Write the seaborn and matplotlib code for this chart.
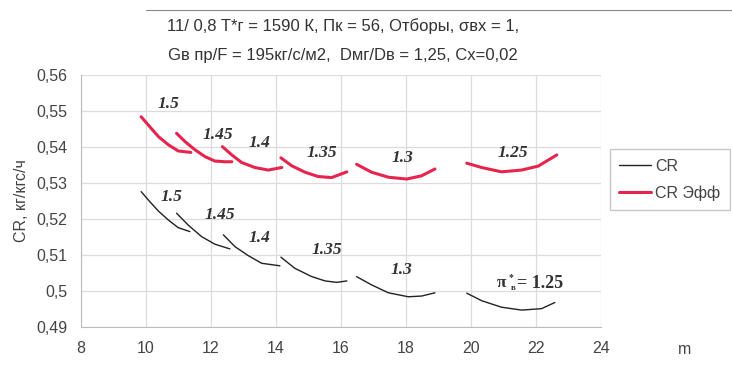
import pandas as pd
import seaborn as sns
import matplotlib.pyplot as plt
from matplotlib.lines import Line2D

# pi*_v labels of the curve families
pi_values = ['1.5', '1.45', '1.4', '1.35', '1.3', '1.25']

# CR (black) curves: m and CR per pi
cr_m = [
    [9.85, 10.07, 10.38, 10.69, 10.99, 11.35],
    [10.94, 11.30, 11.71, 12.12, 12.58],
    [12.38, 12.74, 13.15, 13.56, 14.12],
    [14.15, 14.58, 15.10, 15.51, 15.87, 16.18],
    [16.48, 16.94, 17.46, 18.07, 18.48, 18.89],
    [19.87, 20.33, 20.94, 21.56, 22.17, 22.58],
]
cr_val = [
    [0.5276, 0.5253, 0.5222, 0.5197, 0.5176, 0.5165],
    [0.5216, 0.5183, 0.5151, 0.5130, 0.5117],
    [0.5156, 0.5123, 0.5098, 0.5077, 0.5070],
    [0.5094, 0.5063, 0.5040, 0.5028, 0.5024, 0.5028],
    [0.5040, 0.5017, 0.4995, 0.4984, 0.4986, 0.4995],
    [0.4994, 0.4973, 0.4955, 0.4947, 0.4951, 0.4968],
]

# CR eff (red) curves
eff_m = [
    [9.85, 10.07, 10.38, 10.69, 10.99, 11.38],
    [10.94, 11.20, 11.51, 11.82, 12.12, 12.43, 12.64],
    [12.35, 12.64, 12.94, 13.35, 13.76, 14.18],
    [14.15, 14.48, 14.89, 15.30, 15.71, 16.18],
    [16.48, 16.94, 17.46, 18.02, 18.48, 18.89],
    [19.87, 20.33, 20.94, 21.56, 22.07, 22.64],
]
eff_val = [
    [0.5484, 0.5461, 0.5429, 0.5406, 0.5389, 0.5385],
    [0.5438, 0.5415, 0.5392, 0.5373, 0.5361, 0.5359, 0.5359],
    [0.5401, 0.5378, 0.5357, 0.5343, 0.5336, 0.5343],
    [0.5370, 0.5348, 0.5330, 0.5318, 0.5315, 0.5331],
    [0.5352, 0.5330, 0.5316, 0.5311, 0.5320, 0.5339],
    [0.5355, 0.5343, 0.5331, 0.5336, 0.5347, 0.5378],
]

# label positions (m, CR)
cr_lab_m = [10.8, 12.28, 13.5, 15.57, 17.85, 20.94]
cr_lab_y = [0.5262, 0.5212, 0.5146, 0.5113, 0.5058, 0.5021]
eff_lab_m = [10.68, 12.2, 13.48, 15.4, 17.88, 21.3]
eff_lab_y = [0.5520, 0.5433, 0.5411, 0.5383, 0.5369, 0.5383]

x_ticks = [8, 10, 12, 14, 16, 18, 20, 22, 24]
y_ticks = [0.49, 0.50, 0.51, 0.52, 0.53, 0.54, 0.55, 0.56]
y_labels = ['0,49', '0,5', '0,51', '0,52', '0,53', '0,54', '0,55', '0,56']

rows = []
for name, ms, vs in [('CR', cr_m, cr_val), ('CR Эфф', eff_m, eff_val)]:
    for p, m_list, v_list in zip(pi_values, ms, vs):
        for m, v in zip(m_list, v_list):
            rows.append({'m': m, 'cr': v, 'pi': p, 'series': name})
df = pd.DataFrame(rows)

sns.set_style('white')
plt.rcParams['font.family'] = ['Liberation Sans', 'DejaVu Sans']

red = '#e6244e'
grey_txt = '#444444'
fig = plt.figure(figsize=(7.32, 3.78), dpi=100)
ax = fig.add_axes([0.1107, 0.1349, 0.7103, 0.6667])

sns.lineplot(data=df[df.series == 'CR'], x='m', y='cr', units='pi', estimator=None,
             color='#222222', linewidth=1.0, sort=False, ax=ax, legend=False)
sns.lineplot(data=df[df.series == 'CR Эфф'], x='m', y='cr', units='pi', estimator=None,
             color=red, linewidth=2.2, sort=False, ax=ax, legend=False)

lab_font = dict(family='Liberation Serif', fontsize=12.5, fontweight='bold',
                color='#333333', va='center')
for i, p in enumerate(pi_values):
    ax.text(eff_lab_m[i], eff_lab_y[i], p, style='italic', ha='center', **lab_font)
    if i < 5:
        ax.text(cr_lab_m[i], cr_lab_y[i], p, style='italic', ha='center', **lab_font)

# "π*в= 1.25" label on the last black curve
pm, py = cr_lab_m[5], cr_lab_y[5]
ax.text(pm, py, 'π', ha='center', **lab_font)
ax.annotate('*', (pm, py), xytext=(6.5, 4.5), textcoords='offset points',
            ha='center', va='center', family='Liberation Serif', fontsize=7,
            fontweight='bold', color='#333333')
ax.annotate('в', (pm, py), xytext=(8.4, -3.2), textcoords='offset points',
            ha='center', va='center', family='Liberation Serif', fontsize=6.5,
            fontweight='bold', color='#333333')
ax.annotate('= ' + pi_values[5], (pm, py), xytext=(11, 0), textcoords='offset points',
            ha='left', va='center', family='Liberation Serif', fontsize=13,
            fontweight='bold', color='#333333')

ax.set_xlim(8, 24)
ax.set_ylim(0.49, 0.56)
ax.set_xticks(x_ticks)
ax.set_yticks(y_ticks)
ax.set_yticklabels(y_labels)
ax.grid(True, color='#dcdcdc', linewidth=0.9)
for s in ['top', 'right']:
    ax.spines[s].set_visible(False)
for s in ['left', 'bottom']:
    ax.spines[s].set_color('#bbbbbb')
ax.tick_params(axis='both', length=4, color='#bbbbbb', labelsize=11.5,
               labelcolor=grey_txt, pad=6)
ax.set_xlabel('')
ax.set_ylabel('CR, кг/кгс/ч', fontsize=11.5, color=grey_txt, labelpad=5)

fig.text(0.935, 0.075, 'm', fontsize=11.5, color=grey_txt, ha='center', va='center')
fig.text(0.468, 0.93, '11/ 0,8 T*г = 1590 К, Пк = 56, Отборы, σвх = 1,',
         fontsize=12, color='#333333', ha='center', va='center')
fig.text(0.468, 0.852, 'Gв пр/F = 195кг/с/м2,  Dмг/Dв = 1,25, Cx=0,02',
         fontsize=12, color='#333333', ha='center', va='center')
fig.add_artist(Line2D([0.2, 1.0], [0.973, 0.973], color='#888888', linewidth=0.8))

handles = [Line2D([], [], color='#222222', linewidth=1.0),
           Line2D([], [], color=red, linewidth=2.2)]
fig.legend(handles, ['CR', 'CR Эфф'], loc='upper right', bbox_to_anchor=(0.997, 0.605),
           frameon=True, fancybox=False, edgecolor='#bbbbbb', fontsize=11.5,
           handlelength=2.0, handletextpad=0.25, labelspacing=0.7, borderpad=0.6,
           borderaxespad=0.0, labelcolor=grey_txt)

fig.savefig('out.png', dpi=100)
